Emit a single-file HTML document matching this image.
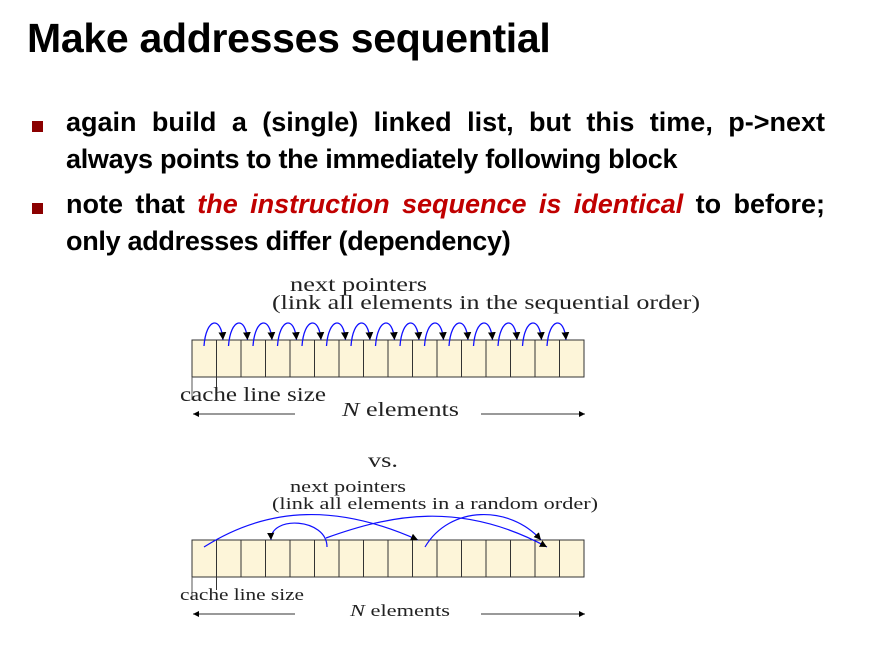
<!DOCTYPE html>
<html><head><style>
body{margin:0;background:#fff;width:883px;height:658px;overflow:hidden;position:relative;font-family:"Liberation Sans",sans-serif}
.t{position:absolute;left:27px;top:15px;font-size:41px;font-weight:bold;color:#000;letter-spacing:-0.3px;white-space:nowrap}
.l{position:absolute;left:66px;font-size:27px;font-weight:bold;white-space:nowrap;line-height:32px}
.j{width:759px;text-align:justify;text-align-last:justify}
.sq{position:absolute;left:32px;width:11px;height:11px;background:#8b0000}
.r{color:#c00000;font-style:italic}
</style></head><body>
<div class="t">Make addresses sequential</div>
<div class="sq" style="top:121px"></div>
<div class="l j" style="top:106px">again build a (single) linked list, but this time, p-&gt;next</div>
<div class="l" style="top:143px;letter-spacing:-0.3px">always points to the immediately following block</div>
<div class="sq" style="top:203px"></div>
<div class="l j" style="top:188px">note that <span class="r">the instruction sequence is identical</span> to before;</div>
<div class="l" style="top:225px;letter-spacing:-0.3px">only addresses differ (dependency)</div>
<svg width="883" height="658" style="position:absolute;left:0;top:0" font-family="Liberation Serif,serif" fill="#222">
<defs><marker id="a" markerWidth="8" markerHeight="8" refX="6" refY="3" orient="auto"><path d="M0,0L6,3L0,6z" fill="#000"/></marker></defs>
<text x="290" y="291" font-size="20" textLength="137" lengthAdjust="spacingAndGlyphs">next pointers</text>
<text x="272" y="309" font-size="20" textLength="428" lengthAdjust="spacingAndGlyphs">(link all elements in the sequential order)</text>
<rect x="192" y="340" width="392" height="37" fill="#fdf5d9" stroke="#333"/>
<g stroke="#333" id="cells">
<line x1="216.5" y1="340" x2="216.5" y2="377"/><line x1="241" y1="340" x2="241" y2="377"/><line x1="265.5" y1="340" x2="265.5" y2="377"/><line x1="290" y1="340" x2="290" y2="377"/><line x1="314.5" y1="340" x2="314.5" y2="377"/><line x1="339" y1="340" x2="339" y2="377"/><line x1="363.5" y1="340" x2="363.5" y2="377"/><line x1="388" y1="340" x2="388" y2="377"/><line x1="412.5" y1="340" x2="412.5" y2="377"/><line x1="437" y1="340" x2="437" y2="377"/><line x1="461.5" y1="340" x2="461.5" y2="377"/><line x1="486" y1="340" x2="486" y2="377"/><line x1="510.5" y1="340" x2="510.5" y2="377"/><line x1="535" y1="340" x2="535" y2="377"/><line x1="559.5" y1="340" x2="559.5" y2="377"/>
</g>
<g fill="none" stroke="#1010ff" stroke-width="1.3" marker-end="url(#a)">
<path d="M204,346 C206,318 221,315 223,340"/><path d="M228.5,346 C230.5,318 245.5,315 247.5,340"/><path d="M253,346 C255,318 270,315 272,340"/><path d="M277.5,346 C279.5,318 294.5,315 296.5,340"/><path d="M302,346 C304,318 319,315 321,340"/><path d="M326.5,346 C328.5,318 343.5,315 345.5,340"/><path d="M351,346 C353,318 368,315 370,340"/><path d="M375.5,346 C377.5,318 392.5,315 394.5,340"/><path d="M400,346 C402,318 417,315 419,340"/><path d="M424.5,346 C426.5,318 441.5,315 443.5,340"/><path d="M449,346 C451,318 466,315 468,340"/><path d="M473.5,346 C475.5,318 490.5,315 492.5,340"/><path d="M498,346 C500,318 515,315 517,340"/><path d="M522.5,346 C524.5,318 539.5,315 541.5,340"/><path d="M547,346 C549,318 564,315 566,340"/>
</g>
<line x1="192" y1="377" x2="192" y2="400" stroke="#555"/><line x1="216.5" y1="377" x2="216.5" y2="388" stroke="#333"/>
<text x="180" y="401" font-size="20" textLength="146" lengthAdjust="spacingAndGlyphs">cache line size</text>
<text x="342" y="416" font-size="20" textLength="117" lengthAdjust="spacingAndGlyphs"><tspan font-style="italic">N</tspan> elements</text>
<line x1="295" y1="414" x2="193" y2="414" stroke="#333" marker-end="url(#a)"/>
<line x1="481" y1="414" x2="585" y2="414" stroke="#333" marker-end="url(#a)"/>
<text x="368" y="467" font-size="21" textLength="30" lengthAdjust="spacingAndGlyphs">vs.</text>
<text x="290" y="492" font-size="17" textLength="116" lengthAdjust="spacingAndGlyphs">next pointers</text>
<text x="272" y="509" font-size="17" textLength="326" lengthAdjust="spacingAndGlyphs">(link all elements in a random order)</text>
<rect x="192" y="540" width="392" height="37" fill="#fdf5d9" stroke="#333"/>
<use href="#cells" y="200"/>
<g fill="none" stroke="#1010ff" stroke-width="1.2" marker-end="url(#a)">
<path d="M204,547 C270,505 340,505 418,540"/>
<path d="M327,547 C327,518 270,515 271,540"/>
<path d="M326,538 C390,515 460,500 547,547"/>
<path d="M425,547 C450,505 510,505 541,540"/>
</g>
<line x1="192" y1="577" x2="192" y2="600" stroke="#555"/><line x1="216.5" y1="577" x2="216.5" y2="590" stroke="#333"/>
<text x="180" y="600" font-size="17" textLength="124" lengthAdjust="spacingAndGlyphs">cache line size</text>
<text x="350" y="616" font-size="17" textLength="100" lengthAdjust="spacingAndGlyphs"><tspan font-style="italic">N</tspan> elements</text>
<line x1="295" y1="614" x2="193" y2="614" stroke="#333" marker-end="url(#a)"/>
<line x1="481" y1="614" x2="585" y2="614" stroke="#333" marker-end="url(#a)"/>
</svg>
</body></html>
